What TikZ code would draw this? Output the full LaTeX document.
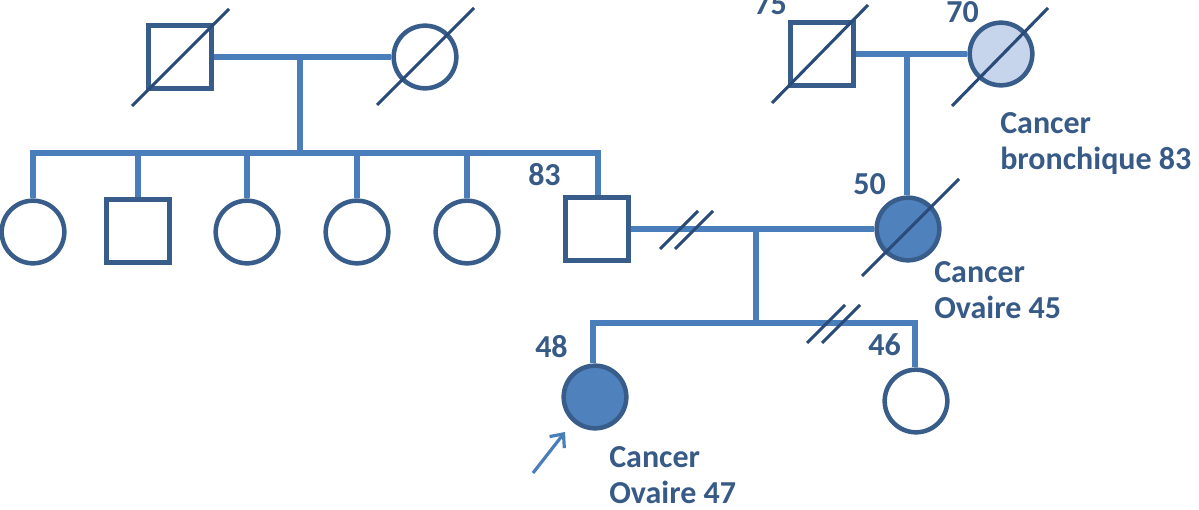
\documentclass[tikz,border=0pt]{standalone}
\usepackage{fontspec}
\setmainfont{Carlito}
\usetikzlibrary{backgrounds,arrows.meta}
\definecolor{conn}{HTML}{4A7EBB}
\definecolor{outl}{HTML}{385D8A}
\definecolor{aff}{HTML}{4F81BD}
\definecolor{light}{HTML}{C6D5EC}
\definecolor{slashc}{HTML}{2A4A77}
\definecolor{txt}{HTML}{375A87}
\tikzset{
  male/.style={draw=outl, line width=3.4pt, fill=white, rectangle, minimum size=47pt, inner sep=0pt},
  female/.style={draw=outl, line width=3.4pt, fill=white, circle, minimum size=47pt, inner sep=0pt},
  affected/.style={fill=aff},
  lightaff/.style={fill=light},
  conn/.style={draw=conn, line width=4.5pt},
  slash/.style={draw=slashc, line width=2.3pt},
  lab/.style={text=txt, font=\fontsize{24}{26.5}\selectfont\bfseries, anchor=base west, inner sep=0pt, align=left},
  pointer/.style={draw=conn, line width=2.4pt, -{Straight Barb[length=8pt,width=14pt]}}
}
\begin{document}
\begin{tikzpicture}[x=0.75pt,y=-0.75pt]
\useasboundingbox (0,0) rectangle (1199,510);
% generation I
\node[male] (gf1) at (180,57) {};
\node[female] (gm1) at (425,57) {};
\node[male] (gf2) at (822,54) {};
\node[female, lightaff] (gm2) at (1001,54) {};
% generation II
\node[female] (c1) at (33,232) {};
\node[male] (c2) at (138,231) {};
\node[female] (c3) at (247,232) {};
\node[female] (c4) at (357,232) {};
\node[female] (c5) at (467,232) {};
\node[male] (f) at (597,229) {};
\node[female, affected] (m) at (908,229) {};
% generation III
\node[female, affected] (p) at (595,397) {};
\node[female] (s) at (916,401) {};

% coordinates
\coordinate (u1) at (300,57);
\coordinate (sL) at (33,153);
\coordinate (sR) at (598,153);
\coordinate (u2) at (907,54);
\coordinate (u3) at (756,230);
\coordinate (bL) at (593,323);
\coordinate (bR) at (915,323);
\coordinate (bM) at (756,323);
\coordinate (d1) at (679,230);
\coordinate (d2) at (694,230);
\coordinate (d3) at (826,324);
\coordinate (d4) at (841,324);
\coordinate (arS) at (533,473);
\coordinate (arE) at (565,432);

\begin{scope}[on background layer]
\draw[conn] (gf1.east) -- (gm1.west);
\draw[conn] (u1) -- (u1 |- sL);
\draw[conn, line cap=rect] (sL) -- (sR);
\foreach \c in {c1,c2,c3,c4,c5}{\draw[conn] (\c.north -| \c) -- (\c |- sL);}
\draw[conn] (sR) -- (f.north -| sR);
\draw[conn] (gf2.east) -- (gm2.west);
\draw[conn] (u2) -- (m.north -| u2);
\draw[conn] (f.east) -- (m.west);
\draw[conn] (u3) -- (bM);
\draw[conn, line cap=rect] (bL) -- (bR);
\draw[conn] (bL) -- (p.north -| bL);
\draw[conn] (bR) -- (s.north -| bR);
\end{scope}

% deceased slashes
\draw[slash] ([shift={(-48,49)}]gf1.center) -- ([shift={(49,-48)}]gf1.center);
\draw[slash] ([shift={(-48,48)}]gm1.center) -- ([shift={(49,-49)}]gm1.center);
\draw[slash] ([shift={(-50,49)}]gf2.center) -- ([shift={(46,-49)}]gf2.center);
\draw[slash] ([shift={(-49,52)}]gm2.center) -- ([shift={(47,-46)}]gm2.center);
\draw[slash] ([shift={(-46,47)}]m.center) -- ([shift={(51,-50)}]m.center);
% divorce marks
\foreach \d in {d1,d2,d3,d4}{\draw[slash] ([shift={(-19,19)}]\d) -- ([shift={(19,-19)}]\d);}
% proband arrow
\draw[pointer] (arS) -- (arE);

% labels
\node[lab] (l75) at (754,15) {75};
\node[lab] (l70) at (946,23) {70};
\node[lab] (l83) at (528,185) {83};
\node[lab] (l50) at (853,194) {50};
\node[lab] (l48) at (535,357) {48};
\node[lab] (l46) at (868,355) {46};
\node[lab] (t70) at (1000,169) {Cancer\\bronchique 83};
\node[lab] (t50) at (934,318) {Cancer\\Ovaire 45};
\node[lab] (t48) at (609,503) {Cancer\\Ovaire 47};
\end{tikzpicture}
\end{document}
